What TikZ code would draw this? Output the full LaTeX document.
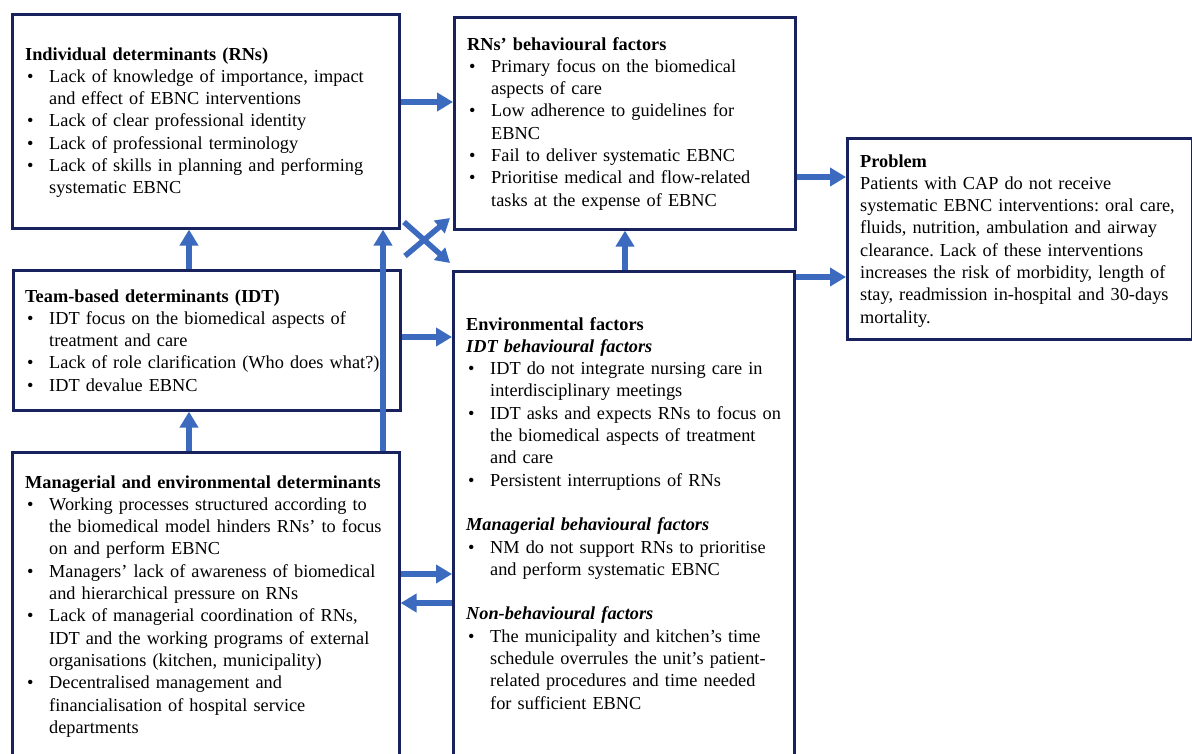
\documentclass[tikz,border=0pt]{standalone}
\usepackage{fontspec}
\setmainfont{Liberation Serif}
\usetikzlibrary{arrows.meta}
\definecolor{bord}{RGB}{24,34,92}
\definecolor{arr}{RGB}{59,106,190}
\newcommand\bitem{\par\hangindent=24pt\hangafter=1\noindent\makebox[24pt][l]{\hspace{2pt}•}}
\newcommand\gapline{\par\vskip 22.3pt}
\tikzset{
  box/.style={draw=bord, line width=2.6pt, rectangle, inner sep=0pt, anchor=north west},
  txt/.style={anchor=base west, inner sep=0pt, text width=#1, align=left,
    font=\fontsize{18.3}{22.3}\selectfont\frenchspacing},
  txt/.default=420pt,
  barrow/.style={draw=arr, line width=6pt, -{Triangle[width=18pt,length=16pt]}},
  xarrow/.style={draw=arr, line width=5.5pt, -{Triangle[width=16pt,length=14pt]}},
}
\begin{document}
\begin{tikzpicture}[x=1pt,y=-1pt]
\useasboundingbox (0,0) rectangle (1192,753);
\clip (0,0) rectangle (1192,753);
% boxes
\node[box, minimum width=387pt, minimum height=214pt] (ind) at (11,13) {};
\node[box, minimum width=341pt, minimum height=212pt] (rns) at (453,16) {};
\node[box, minimum width=345pt, minimum height=201pt] (prob) at (846,137) {};
\node[box, minimum width=387pt, minimum height=140pt] (team) at (12,269) {};
\node[box, minimum width=387pt, minimum height=330pt] (man) at (11,451) {};
\node[box, minimum width=341pt, minimum height=510pt] (env) at (452,270) {};
% texts
\node[txt] (indt) at (25,60) {\textbf{Individual determinants (RNs)}
\bitem Lack of knowledge of importance, impact\newline and effect of EBNC interventions
\bitem Lack of clear professional identity
\bitem Lack of professional terminology
\bitem Lack of skills in planning and performing\newline systematic EBNC\par};
\node[txt] (rnst) at (467,50) {\textbf{RNs’ behavioural factors}
\bitem Primary focus on the biomedical\newline aspects of care
\bitem Low adherence to guidelines for\newline EBNC
\bitem Fail to deliver systematic EBNC
\bitem Prioritise medical and flow-related\newline tasks at the expense of EBNC\par};
\node[txt] (probt) at (860,167) {\textbf{Problem}\newline
Patients with CAP do not receive\newline
systematic EBNC interventions: oral care,\newline
fluids, nutrition, ambulation and airway\newline
clearance. Lack of these interventions\newline
increases the risk of morbidity, length of\newline
stay, readmission in-hospital and 30-days\newline
mortality.\par};
\node[txt] (teamt) at (25,302) {\textbf{Team-based determinants (IDT)}
\bitem IDT focus on the biomedical aspects of\newline treatment and care
\bitem Lack of role clarification (Who does what?)
\bitem IDT devalue EBNC\par};
\node[txt] (mant) at (25,488) {\textbf{Managerial and environmental determinants}
\bitem Working processes structured according to\newline the biomedical model hinders RNs’ to focus\newline on and perform EBNC
\bitem Managers’ lack of awareness of biomedical\newline and hierarchical pressure on RNs
\bitem Lack of managerial coordination of RNs,\newline IDT and the working programs of external\newline organisations (kitchen, municipality)
\bitem Decentralised management and\newline financialisation of hospital service\newline departments\par};
\node[txt] (envt) at (466,330) {\textbf{Environmental factors}\par
\noindent\textbf{\textit{IDT behavioural factors}}
\bitem IDT do not integrate nursing care in\newline interdisciplinary meetings
\bitem IDT asks and expects RNs to focus on\newline the biomedical aspects of treatment\newline and care
\bitem Persistent interruptions of RNs
\gapline\noindent\textbf{\textit{Managerial behavioural factors}}
\bitem NM do not support RNs to prioritise\newline and perform systematic EBNC
\gapline\noindent\textbf{\textit{Non-behavioural factors}}
\bitem The municipality and kitchen’s time\newline schedule overrules the unit’s patient-\newline related procedures and time needed\newline for sufficient EBNC\par};
% helper coordinates
\coordinate (h1) at (0,102);
\coordinate (h2) at (0,177);
\coordinate (h3) at (0,277);
\coordinate (h4) at (0,337);
\coordinate (h5) at (0,574);
\coordinate (h6) at (0,603);
\coordinate (v1) at (189,0);
\coordinate (v2) at (383,0);
\coordinate (v3) at (625,0);
\coordinate (xa) at (405,256);
\coordinate (xb) at (450,218);
\coordinate (xc) at (404,222);
\coordinate (xd) at (450,263);
% connectors
\draw[barrow] (ind.east |- h1) -- (rns.west |- h1);
\draw[barrow] (rns.east |- h2) -- (prob.west |- h2);
\draw[barrow] (env.east |- h3) -- (prob.west |- h3);
\draw[barrow] (team.east |- h4) -- (env.west |- h4);
\draw[barrow] (man.east |- h5) -- (env.west |- h5);
\draw[barrow] (env.west |- h6) -- (man.east |- h6);
\draw[barrow] (team.north -| v1) -- (ind.south -| v1);
\draw[barrow] (man.north -| v1) -- (team.south -| v1);
\draw[barrow] (man.north -| v2) -- (ind.south -| v2);
\draw[barrow] (env.north -| v3) -- (rns.south -| v3);
\draw[xarrow] (xa) -- (xb);
\draw[xarrow] (xc) -- (xd);
\end{tikzpicture}
\end{document}
